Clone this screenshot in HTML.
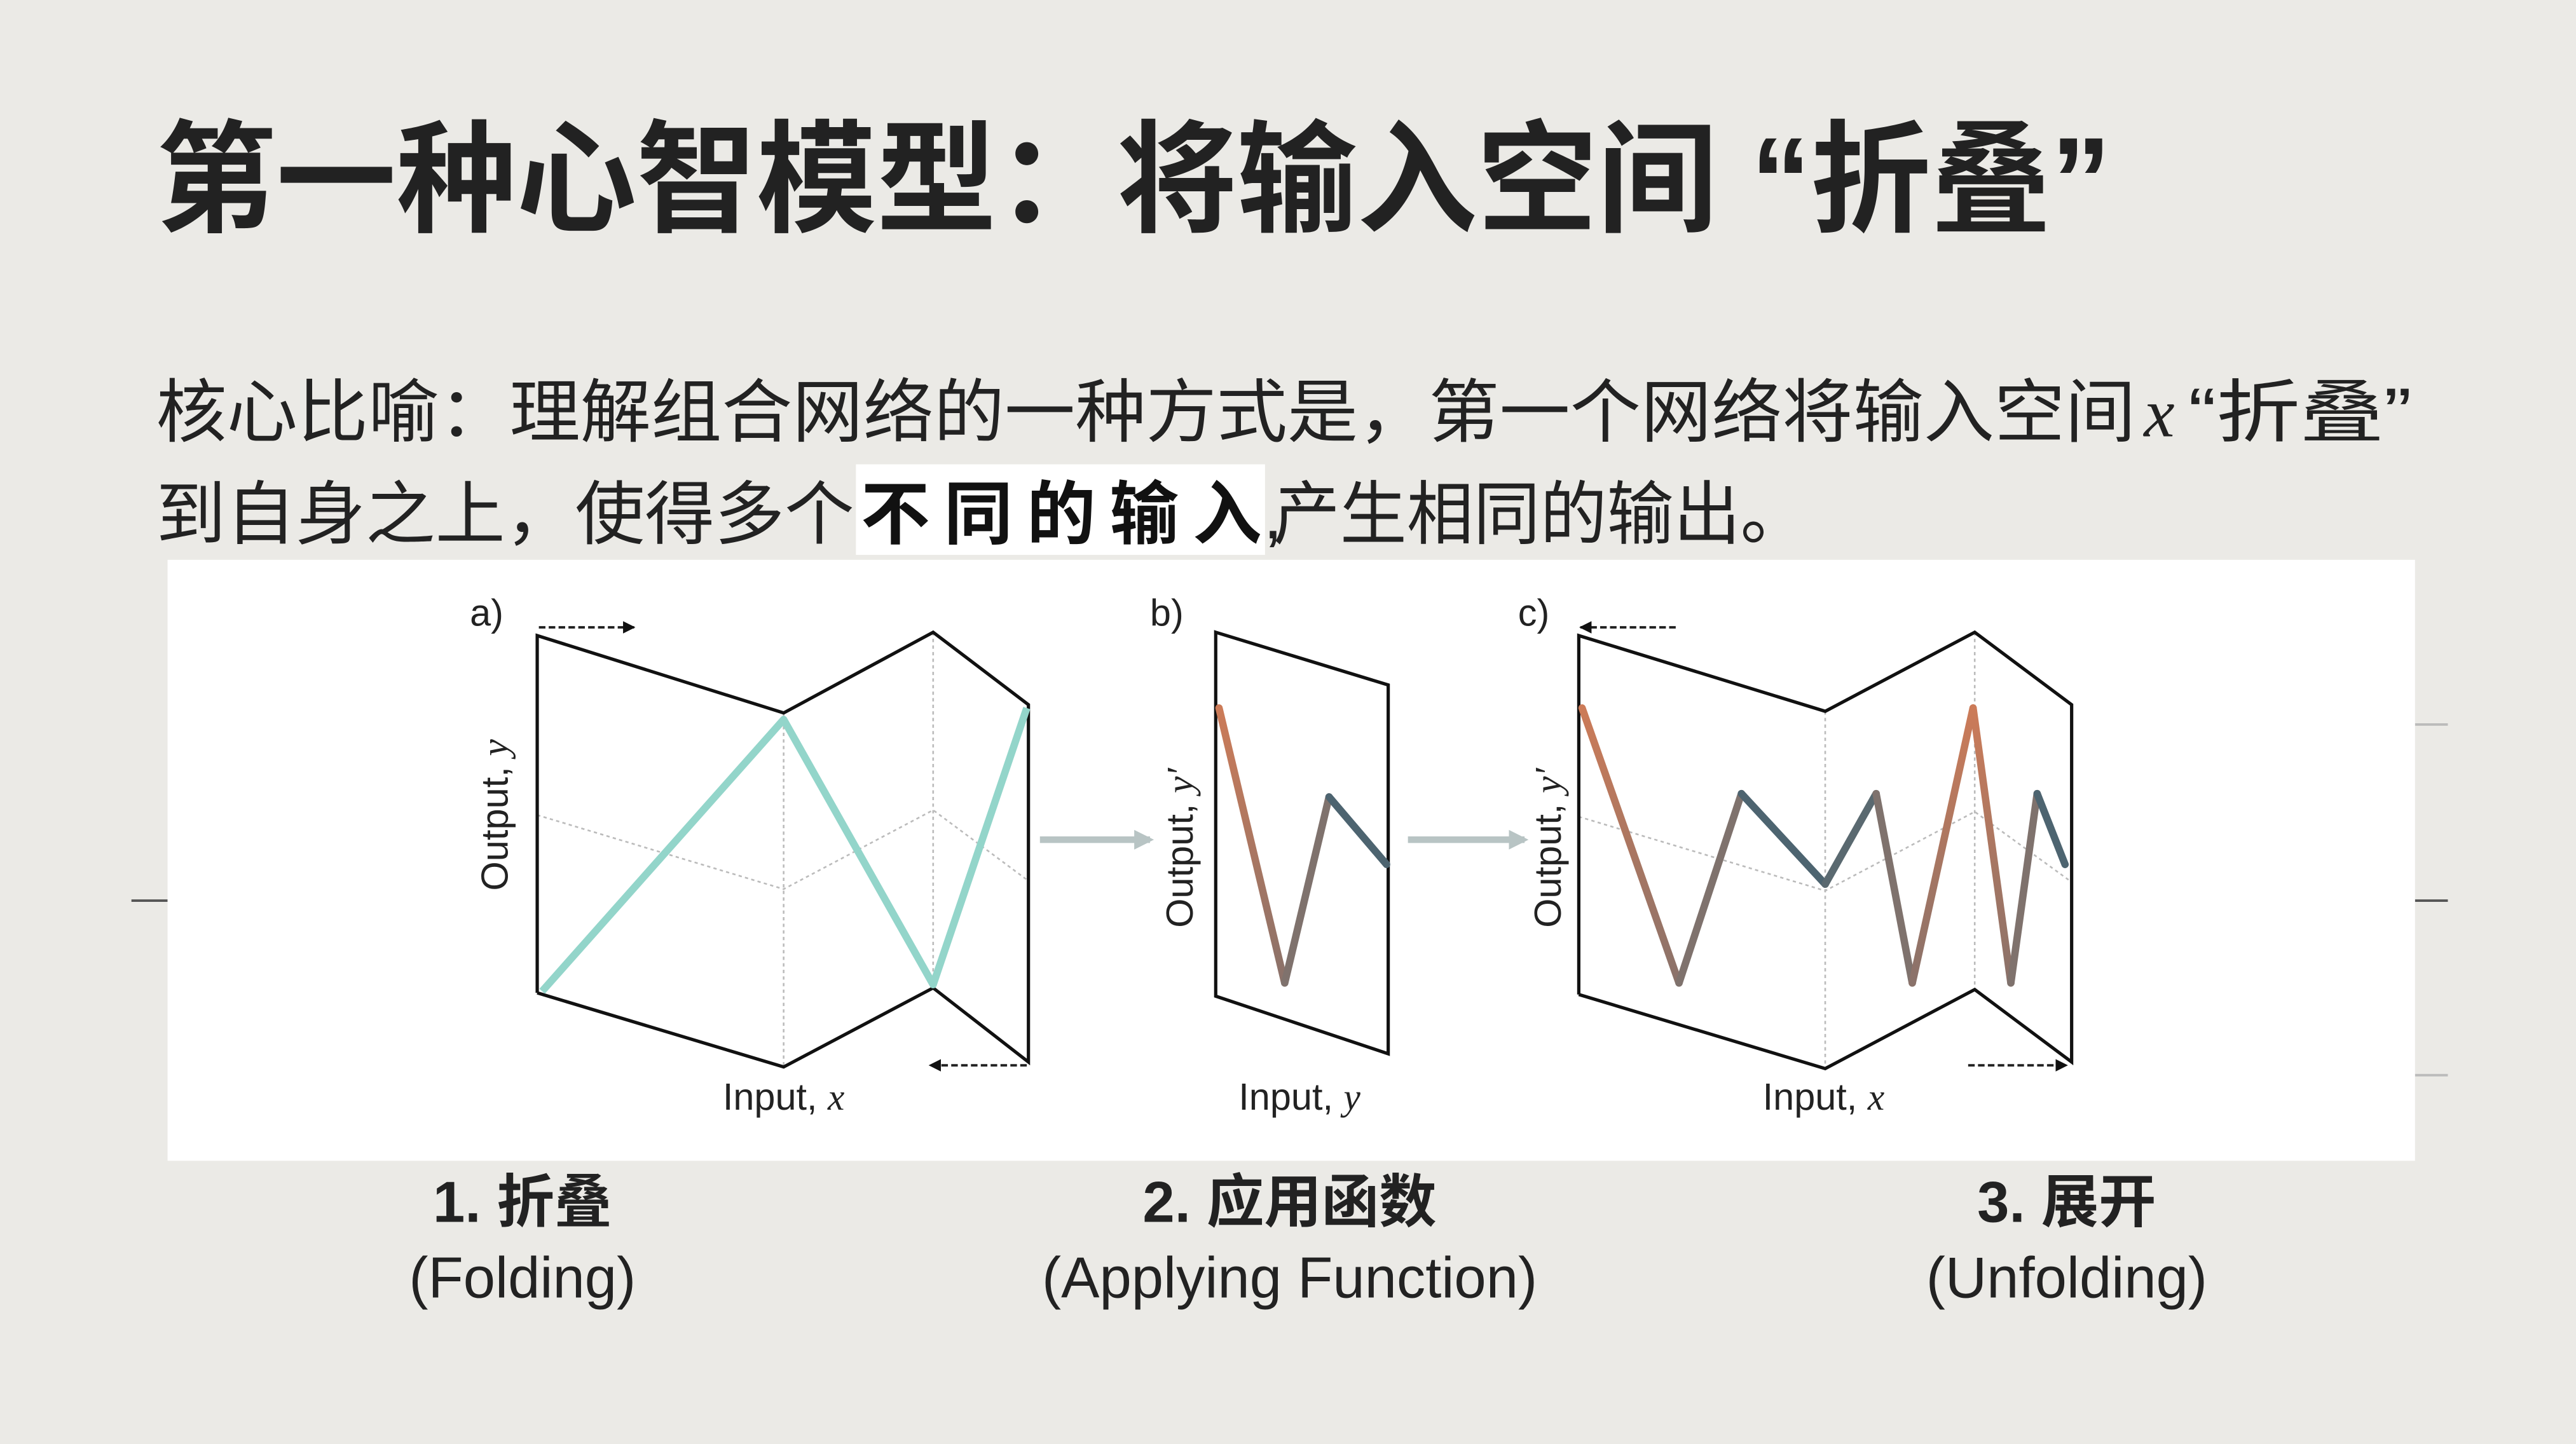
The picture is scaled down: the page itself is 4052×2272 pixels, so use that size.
<!DOCTYPE html>
<html><head><meta charset="utf-8"><style>
html,body{margin:0;padding:0;background:#ebeae6;}
svg{display:block;}
text{font-family:"Liberation Sans","Noto Sans CJK SC",sans-serif;}
.it{font-family:"Liberation Serif",serif;font-style:italic;}
</style></head><body>
<svg width="4052" height="2272" viewBox="0 0 1568 877" preserveAspectRatio="none" xmlns="http://www.w3.org/2000/svg">
<defs>
<marker id="ah" viewBox="0 0 10 10" refX="9" refY="5" markerWidth="5" markerHeight="5" orient="auto"><path d="M0,0 L10,5 L0,10 z" fill="#111"/></marker>
<marker id="gh" viewBox="0 0 10 10" refX="8" refY="5" markerWidth="3" markerHeight="3" orient="auto"><path d="M0,0 L10,5 L0,10 z" fill="#b8c4c4"/></marker>
<linearGradient id="og" gradientUnits="userSpaceOnUse" x1="0" y1="430" x2="0" y2="597"><stop offset="0" stop-color="#cc7b58"/><stop offset="1" stop-color="#8a726a"/></linearGradient>
</defs>
<rect width="1568" height="877" fill="#ebeae6"/>
<text x="95" y="135" font-size="74" font-weight="bold" fill="#222" textLength="1190" lengthAdjust="spacingAndGlyphs">第一种心智模型：将输入空间 “折叠”</text>
<text x="95" y="265" font-size="42" fill="#222" textLength="1205" lengthAdjust="spacingAndGlyphs">核心比喻：理解组合网络的一种方式是，第一个网络将输入空间</text>
<text x="1305" y="265" font-size="42" class="it" fill="#222">x</text>
<text x="1332" y="265" font-size="42" fill="#222" textLength="136" lengthAdjust="spacingAndGlyphs">“折叠”</text>
<text x="95" y="327" font-size="42" fill="#222" textLength="425" lengthAdjust="spacingAndGlyphs">到自身之上，使得多个</text>
<rect x="521" y="282" width="249" height="55" fill="#fff"/>
<text x="524" y="327" font-size="42" font-weight="bold" fill="#111" textLength="244" lengthAdjust="spacing">不同的输入</text>
<text x="769" y="327" font-size="42" fill="#222">,</text>
<text x="775" y="327" font-size="42" fill="#222" textLength="325" lengthAdjust="spacingAndGlyphs">产生相同的输出。</text>
<g stroke="#555" stroke-width="1.5"><line x1="80" y1="547" x2="102" y2="547"/><line x1="1470" y1="547" x2="1490" y2="547"/><line x1="1470" y1="440" x2="1490" y2="440" stroke="#bbb"/><line x1="1470" y1="653" x2="1490" y2="653" stroke="#bbb"/></g>
<rect x="102" y="340" width="1368" height="365" fill="#fff"/>
<g fill="none" stroke="#bbb" stroke-width="1" stroke-dasharray="2,2">
<line x1="477" y1="433" x2="477" y2="648"/><line x1="568" y1="384" x2="568" y2="600"/>
<polyline points="327,495 477,540 568,492 626,535"/>
<line x1="1111" y1="432" x2="1111" y2="649"/><line x1="1202" y1="384" x2="1202" y2="601"/>
<polyline points="961,496 1111,541 1202,493 1260,535"/>
</g>
<g fill="none" stroke="#111" stroke-width="2">
<polyline points="327,603 327,386 477,433 568,384 626,428 626,645 568,600 477,648 327,603"/>
<polygon points="740,384 845,416 845,640 740,605"/>
<polyline points="961,604 961,386 1111,432 1202,384 1261,428 1261,645 1202,601 1111,649 961,604"/>
</g>
<polyline points="330,602 477,437 568,598 625,430" fill="none" stroke="#93d5ca" stroke-width="4.5" stroke-linejoin="round"/>
<g fill="none" stroke-width="4.5" stroke-linejoin="round" stroke-linecap="round">
<line x1="742" y1="430" x2="782" y2="597" stroke="url(#og)"/>
<line x1="782" y1="597" x2="809" y2="484" stroke="#7f726d"/>
<line x1="809" y1="484" x2="844" y2="525" stroke="#4d6470"/>
<line x1="963" y1="430" x2="1022" y2="597" stroke="url(#og)"/>
<line x1="1022" y1="597" x2="1060" y2="482" stroke="#7f726d"/>
<line x1="1060" y1="482" x2="1111" y2="537" stroke="#4d6470"/>
<line x1="1111" y1="537" x2="1142" y2="482" stroke="#5a6970"/>
<line x1="1142" y1="482" x2="1164" y2="597" stroke="#7f726d"/>
<line x1="1164" y1="597" x2="1201" y2="430" stroke="url(#og)"/>
<line x1="1201" y1="430" x2="1224" y2="597" stroke="url(#og)"/>
<line x1="1224" y1="597" x2="1240" y2="482" stroke="#7f726d"/>
<line x1="1240" y1="482" x2="1257" y2="525" stroke="#4d6470"/>
</g>
<g stroke="#222" stroke-width="1.5" stroke-dasharray="4,2" marker-end="url(#ah)">
<line x1="328" y1="381" x2="386" y2="381"/>
<line x1="625" y1="647" x2="566" y2="647"/>
<line x1="1020" y1="381" x2="962" y2="381"/>
<line x1="1198" y1="647" x2="1258" y2="647"/>
</g>
<g stroke="#b8c4c4" stroke-width="4" marker-end="url(#gh)">
<line x1="633" y1="510" x2="700" y2="510"/>
<line x1="857" y1="510" x2="928" y2="510"/>
</g>
<g font-size="23" fill="#222">
<text x="286" y="380">a)</text><text x="700" y="380">b)</text><text x="924" y="380">c)</text>
<text x="477" y="674" text-anchor="middle">Input, <tspan class="it">x</tspan></text>
<text x="791" y="674" text-anchor="middle">Input, <tspan class="it">y</tspan></text>
<text x="1110" y="674" text-anchor="middle">Input, <tspan class="it">x</tspan></text>
<text transform="translate(309,495) rotate(-90)" text-anchor="middle">Output, <tspan class="it">y</tspan></text>
<text transform="translate(726,515) rotate(-90)" text-anchor="middle">Output, <tspan class="it">y′</tspan></text>
<text transform="translate(950,515) rotate(-90)" text-anchor="middle">Output, <tspan class="it">y′</tspan></text>
</g>
<g font-size="35" fill="#222" text-anchor="middle">
<text x="318" y="742" font-weight="bold">1. 折叠</text>
<text x="318" y="788">(Folding)</text>
<text x="785" y="742" font-weight="bold">2. 应用函数</text>
<text x="785" y="788">(Applying Function)</text>
<text x="1258" y="742" font-weight="bold">3. 展开</text>
<text x="1258" y="788">(Unfolding)</text>
</g>
</svg>
</body></html>
